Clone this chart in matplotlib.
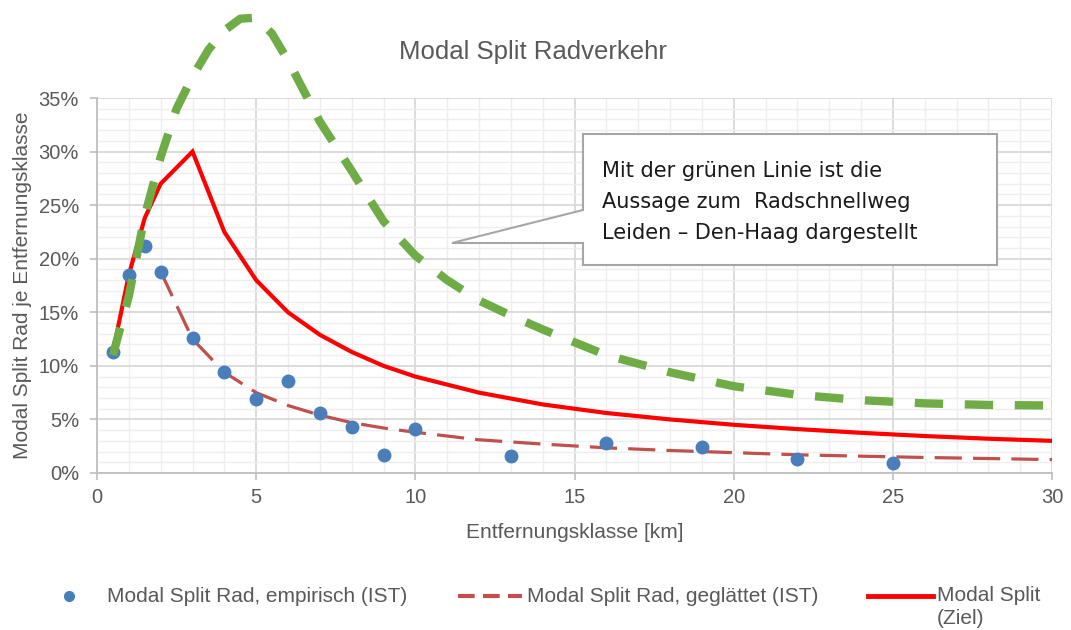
import matplotlib
matplotlib.use("Agg")
import matplotlib.pyplot as plt
from matplotlib.ticker import MultipleLocator, PercentFormatter
from matplotlib.lines import Line2D
from matplotlib.patches import Polygon

x_emp = [0.5, 1, 1.5, 2, 3, 4, 5, 6, 7, 8, 9, 10, 13, 16, 19, 22, 25]
y_emp = [11.3, 18.5, 21.2, 18.8, 12.6, 9.4, 6.9, 8.6, 5.6, 4.3, 1.7, 4.1, 1.6, 2.8, 2.4, 1.3, 0.9]

x_glatt = [2, 3, 4, 5, 6, 7, 8, 9, 10, 12, 14, 16, 18, 20, 22, 24, 26, 28, 30]
y_glatt = [18.8, 12.5, 9.4, 7.5, 6.3, 5.4, 4.7, 4.2, 3.8, 3.1, 2.7, 2.35, 2.1, 1.9, 1.7, 1.57, 1.45, 1.35, 1.25]

x_ziel = [0.5, 1, 1.5, 2, 3, 4, 5, 6, 7, 8, 9, 10, 12, 14, 16, 18, 20, 22, 24, 26, 28, 30]
y_ziel = [11.3, 18.5, 23.8, 27.0, 30.0, 22.5, 18.0, 15.0, 12.9, 11.3, 10.0, 9.0, 7.5, 6.4, 5.6, 5.0,
          4.5, 4.1, 3.75, 3.45, 3.2, 3.0]

x_gruen = [0.5, 1, 1.5, 2, 2.5, 3, 3.5, 4, 4.5, 5, 5.5, 6, 7, 8, 9, 10, 11, 12, 13, 14, 15, 16, 18,
           20, 22, 24, 26, 28, 30]
y_gruen = [11.0, 16.5, 24.0, 29.5, 34.0, 37.0, 39.5, 41.3, 42.4, 42.5, 41.0, 38.5, 32.8, 28.2, 23.5,
           20.3, 18.0, 16.1, 14.7, 13.4, 12.2, 11.0, 9.4, 8.1, 7.3, 6.8, 6.5, 6.35, 6.3]

labels = ["Modal Split Rad, empirisch (IST)", "Modal Split Rad, geglättet (IST)", "Modal Split\n(Ziel)"]
hinweis = "Mit der grünen Linie ist die\nAussage zum  Radschnellweg\nLeiden – Den-Haag dargestellt"

c_blau = "#4a7ebb"
c_braun = "#c0504d"
c_rot = "#ff0000"
c_gruen = "#6fac46"
c_text = "#595959"

plt.rcParams["font.family"] = ["Liberation Sans", "DejaVu Sans"]

W, H = 1071, 630
fig = plt.figure(figsize=(W / 100, H / 100), dpi=100)
ax = fig.add_axes([97 / W, 1 - 473 / H, (1052 - 97) / W, (473 - 98) / H])

ax.plot(x_glatt, y_glatt, color=c_braun, lw=2.3, linestyle=(0, (8.5, 3.5)), zorder=3)
ax.plot(x_ziel, y_ziel, color=c_rot, lw=3.0, zorder=4, solid_joinstyle="miter")
ax.plot(x_emp, y_emp, "o", color=c_blau, markersize=9, zorder=5)
ax.plot(x_gruen, y_gruen, color=c_gruen, lw=6.0, linestyle=(0, (3.4, 2.6)), zorder=6, clip_on=False)

ax.set_xlim(0, 30)
ax.set_ylim(0, 35)
ax.xaxis.set_major_locator(MultipleLocator(5))
ax.xaxis.set_minor_locator(MultipleLocator(1))
ax.yaxis.set_major_locator(MultipleLocator(5))
ax.yaxis.set_minor_locator(MultipleLocator(1))
ax.yaxis.set_major_formatter(PercentFormatter(decimals=0))

ax.grid(which="major", color="#d9d9d9", lw=1.3, zorder=0)
ax.grid(which="minor", color="#eeeeee", lw=1.0, zorder=0)
ax.set_axisbelow(True)
for s in ["top", "right"]:
    ax.spines[s].set_visible(False)
for s in ["left", "bottom"]:
    ax.spines[s].set_color("#bfbfbf")
    ax.spines[s].set_linewidth(1.3)
ax.tick_params(which="major", length=5, width=1.2, color="#bfbfbf", labelcolor=c_text, labelsize=14.5)
ax.tick_params(axis="y", pad=8)
ax.tick_params(axis="x", pad=6)
ax.tick_params(which="minor", length=0)

ax.set_xlabel("Entfernungsklasse [km]", fontsize=15, color=c_text, labelpad=11)
ax.set_ylabel("Modal Split Rad je Entfernungsklasse", fontsize=15, color=c_text, labelpad=5)
fig.text(533 / W, 1 - 52 / H, "Modal Split Radverkehr", fontsize=18.5, color=c_text, ha="center", va="center")

# Hinweis-Box mit Spitze
pts = [(583, 134), (997, 134), (997, 265), (583, 265), (583, 243), (452, 243), (583, 210)]
box = Polygon([(px / W, 1 - py / H) for px, py in pts], closed=True, transform=fig.transFigure,
              facecolor="white", edgecolor="#a6a6a6", lw=1.5, zorder=10)
fig.add_artist(box)
fig.text(602 / W, 1 - 202 / H, hinweis, fontsize=15, family=["DejaVu Sans"], color="#1a1a1a",
         ha="left", va="center", linespacing=1.66, zorder=11)

# Legende
ly = 1 - 596 / H
fig.add_artist(Line2D([69 / W], [ly], marker="o", color=c_blau, markersize=7, transform=fig.transFigure))
fig.text(107 / W, ly, labels[0], fontsize=15, color=c_text, ha="left", va="center")
fig.add_artist(Line2D([458 / W, 522 / W], [ly, ly], color=c_braun, lw=3, linestyle=(0, (4, 2)),
                      transform=fig.transFigure))
fig.text(527 / W, ly, labels[1], fontsize=15, color=c_text, ha="left", va="center")
fig.add_artist(Line2D([868 / W, 933 / W], [ly, ly], color=c_rot, lw=3.5, transform=fig.transFigure))
fig.text(937 / W, ly + 10 / H, labels[2], fontsize=15, color=c_text, ha="left", va="top",
         linespacing=1.3)

fig.savefig("out.png", dpi=100)
